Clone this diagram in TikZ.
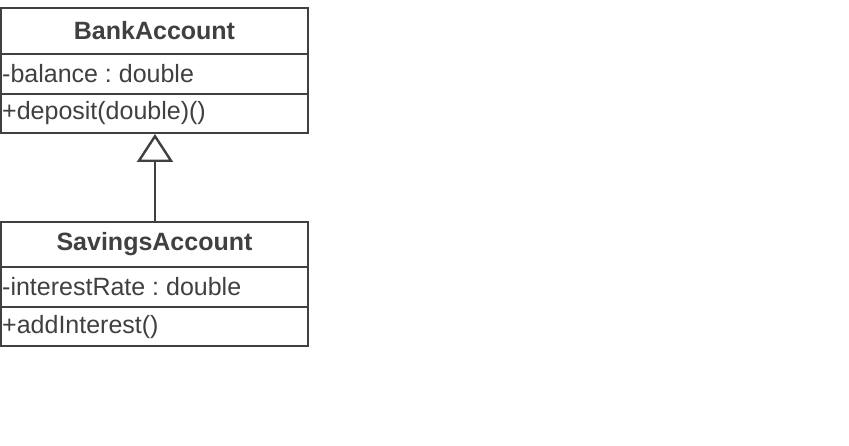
\documentclass[tikz,border=0pt]{standalone}
\usepackage{fontspec}
\setmainfont{Liberation Sans}
\usetikzlibrary{arrows.meta}
\definecolor{uml}{HTML}{404040}
\frenchspacing
\begin{document}
\begin{tikzpicture}[x=1pt,y=-1pt,
  box/.style={draw=uml,line width=2.4pt,fill=white},
  divider/.style={draw=uml,line width=2.4pt},
  title/.style={font=\fontsize{25}{29}\selectfont\bfseries,text=uml,anchor=center,inner sep=0pt},
  member/.style={font=\fontsize{25}{29}\selectfont,text=uml,anchor=west,inner sep=0pt},
  inherit/.style={draw=uml,line width=2.4pt,-{Triangle[open,length=28pt,width=36pt,line width=2.4pt]}}]
\useasboundingbox (0,0) rectangle (849,446);
% BankAccount
\draw[box] (1,8) rectangle (308,133);
\draw[divider] (1,54) -- (308,54);
\draw[divider] (1,94) -- (308,94);
\node[title] (bt) at (154.5,31) {BankAccount};
\node[member] (ba) at (2,73.5) {-balance : double};
\node[member] (bm) at (2,113) {+deposit(double)()};
\coordinate (btop) at (155,134);
% SavingsAccount
\draw[box] (1,222) rectangle (308,346);
\draw[divider] (1,267) -- (308,267);
\draw[divider] (1,307) -- (308,307);
\node[title] (st) at (154.5,244.5) {SavingsAccount};
\node[member] (sa) at (2,286.5) {-interestRate : double};
\node[member] (sm) at (2,327) {+addInterest()};
\coordinate (sbot) at (155,221);
\draw[inherit] (sbot) -- (btop);
\end{tikzpicture}
\end{document}
